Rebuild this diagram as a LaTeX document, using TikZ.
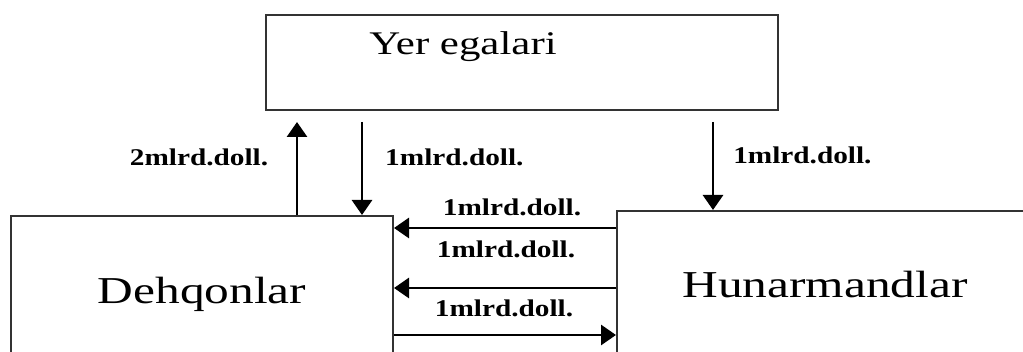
\documentclass[tikz,border=0pt]{standalone}
\usepackage{fontspec}
\setmainfont{Liberation Serif}
\usetikzlibrary{arrows.meta}
\tikzset{
  box/.style={draw=black!80, line width=2pt, inner sep=0pt},
  who/.style={font=\fontsize{38}{40}\selectfont, xscale=1.3, anchor=base, inner sep=0pt},
  money/.style={font=\fontsize{24}{26}\selectfont\bfseries, xscale=1.22, anchor=base, inner sep=0pt},
  flow/.style={line width=2.8pt, -{Triangle[width=20pt,length=15pt]}}
}
\begin{document}
\begin{tikzpicture}[x=1pt, y=-1pt]
  \useasboundingbox (0,0) rectangle (1023,352);
  \clip (0,0) rectangle (1023,352);
  % boxes
  \node[box, minimum width=512, minimum height=95] (yer) at (522,62.5) {};
  \node[box, minimum width=382, minimum height=164] (dehq) at (202,298) {};
  \node[box, minimum width=428, minimum height=169] (hun) at (831,295.5) {};
  \node[who, font=\fontsize{33}{35}\selectfont] (yertxt) at (463,55) {Yer egalari};
  \node[who] (dehqtxt) at (202,304) {Dehqonlar};
  \node[who] (huntxt) at (825,298) {Hunarmandlar};
  % arrow ends
  \coordinate (t1) at (297,122);
  \coordinate (t2) at (362,122);
  \coordinate (t3) at (713,122);
  \coordinate (h1) at (0,228);
  \coordinate (h2) at (0,288);
  \coordinate (h3) at (0,335);
  \draw[flow] (dehq.north -| t1) -- (t1);
  \draw[flow] (t2) -- (dehq.north -| t2);
  \draw[flow] (t3) -- (hun.north -| t3);
  \draw[flow] (hun.west |- h1) -- (dehq.east |- h1);
  \draw[flow] (hun.west |- h2) -- (dehq.east |- h2);
  \draw[flow] (dehq.east |- h3) -- (hun.west |- h3);
  % labels
  \node[money] (m1) at (199,166) {2mlrd.doll.};
  \node[money, anchor=base west] (m2) at (385,166) {1mlrd.doll.};
  \node[money, anchor=base west] (m3) at (733,164) {1mlrd.doll.};
  \node[money] (m4) at (512,216) {1mlrd.doll.};
  \node[money] (m5) at (506,258) {1mlrd.doll.};
  \node[money] (m6) at (504,317) {1mlrd.doll.};
\end{tikzpicture}
\end{document}
